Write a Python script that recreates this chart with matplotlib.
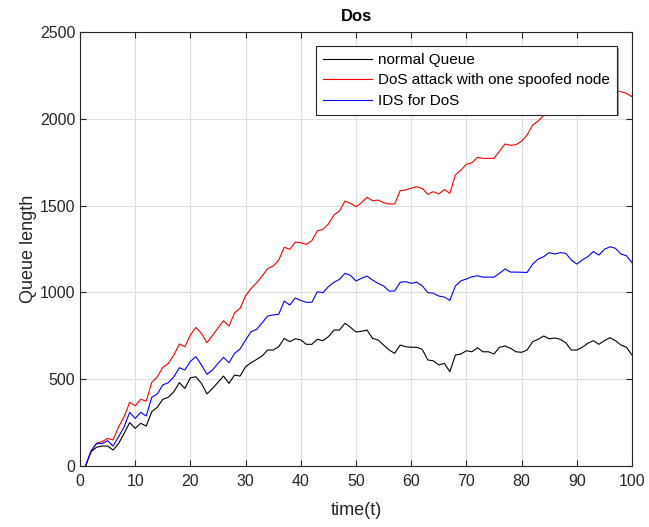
import matplotlib
matplotlib.use("Agg")
import matplotlib.pyplot as plt
from matplotlib.patches import Rectangle
import numpy as np

t = list(range(1, 101))

normal_queue = [
    0, 82, 108, 115, 115, 92, 130, 188, 250, 217,
    246, 230, 313, 338, 384, 396, 428, 480, 447, 508,
    514, 476, 415, 447, 482, 518, 476, 524, 518, 572,
    595, 614, 634, 668, 668, 687, 735, 716, 733, 726,
    701, 701, 730, 722, 745, 783, 783, 822, 799, 772,
    776, 783, 735, 726, 697, 668, 649, 697, 687, 684,
    684, 672, 611, 606, 582, 591, 543, 639, 645, 664,
    658, 681, 658, 658, 645, 684, 691, 678, 658, 655,
    668, 716, 730, 749, 733, 737, 730, 710, 668, 668,
    684, 707, 722, 701, 722, 739, 722, 697, 684, 639,
]

dos_attack = [
    0, 86, 132, 140, 159, 150, 226, 284, 367, 347,
    384, 374, 482, 514, 568, 591, 639, 703, 687, 755,
    798, 764, 710, 752, 795, 837, 806, 883, 908, 981,
    1023, 1056, 1094, 1138, 1152, 1186, 1260, 1248, 1290, 1286,
    1277, 1298, 1355, 1363, 1394, 1446, 1469, 1526, 1513, 1494,
    1517, 1548, 1528, 1532, 1517, 1509, 1509, 1586, 1590, 1600,
    1609, 1599, 1565, 1580, 1567, 1592, 1571, 1676, 1705, 1738,
    1747, 1778, 1772, 1772, 1772, 1814, 1855, 1847, 1851, 1871,
    1907, 1964, 1987, 2020, 2040, 2055, 2060, 2035, 2022, 2041,
    2070, 2090, 2110, 2130, 2150, 2168, 2166, 2156, 2147, 2127,
]

ids_dos = [
    0, 86, 129, 129, 146, 115, 169, 226, 309, 274,
    309, 288, 396, 415, 467, 480, 514, 566, 553, 603,
    630, 582, 528, 553, 591, 626, 595, 649, 674, 726,
    774, 787, 825, 864, 870, 874, 950, 927, 968, 953,
    943, 943, 1004, 998, 1033, 1058, 1075, 1110, 1098, 1066,
    1081, 1094, 1071, 1052, 1037, 1008, 1008, 1058, 1062, 1052,
    1059, 1038, 999, 995, 979, 973, 954, 1037, 1067, 1077,
    1090, 1096, 1088, 1088, 1088, 1110, 1135, 1117, 1117, 1116,
    1115, 1163, 1192, 1206, 1229, 1221, 1229, 1225, 1187, 1163,
    1187, 1206, 1235, 1215, 1248, 1263, 1254, 1221, 1211, 1171,
]

labels = ["normal Queue", "DoS attack with one spoofed node", "IDS for DoS"]
colors = ["#000000", "#ff0000", "#0000ff"]

plt.rcParams['font.family'] = ['Liberation Sans', 'DejaVu Sans']

fig = plt.figure(figsize=(6.49, 5.27), dpi=100)
ax = fig.add_axes([80/649, 1-466/527, (632-80)/649, (466-32)/527])

for series, lab, col in zip([normal_queue, dos_attack, ids_dos], labels, colors):
    ax.plot(t, series, color=col, lw=0.8, label=lab)

ax.set_xlim(0, 100)
ax.set_ylim(0, 2500)
ax.set_xticks(np.arange(0, 101, 10))
ax.set_yticks(np.arange(0, 2501, 500))
ax.grid(True, color="#dedede", lw=0.8)
ax.set_axisbelow(True)
ax.tick_params(direction="in", top=True, right=True, labelsize=11.5, length=4,
               color="#262626", labelcolor="#262626")
ax.tick_params(axis="x", pad=6)
for s in ax.spines.values():
    s.set_color("#262626")
    s.set_linewidth(0.8)

ax.set_title("Dos", fontsize=12, fontweight="bold", pad=8)
ax.set_xlabel("time(t)", fontsize=13, color="#262626", labelpad=9)
ax.set_ylabel("Queue length", fontsize=13, color="#262626", labelpad=2)

leg = ax.legend(loc="upper right", bbox_to_anchor=(617/649, 1-46/527), bbox_transform=fig.transFigure,
                fontsize=11, frameon=True, fancybox=False, edgecolor="#262626",
                handlelength=3.2, borderpad=0.45, labelspacing=0.43, handletextpad=0.4,
                borderaxespad=0)
leg.get_frame().set_linewidth(0.8)
leg.get_frame().set_alpha(1.0)
leg.set_zorder(6)

# subtle MATLAB-like legend shadow
fig.canvas.draw()
bb = leg.get_window_extent()
shadow = Rectangle((bb.x0 + 1.5, bb.y0 - 1.5), bb.width, bb.height, transform=None,
                   facecolor="#9a9a9a", edgecolor="none", zorder=5.9, clip_on=False)
ax.add_artist(shadow)

fig.savefig("out.png", dpi=100)
